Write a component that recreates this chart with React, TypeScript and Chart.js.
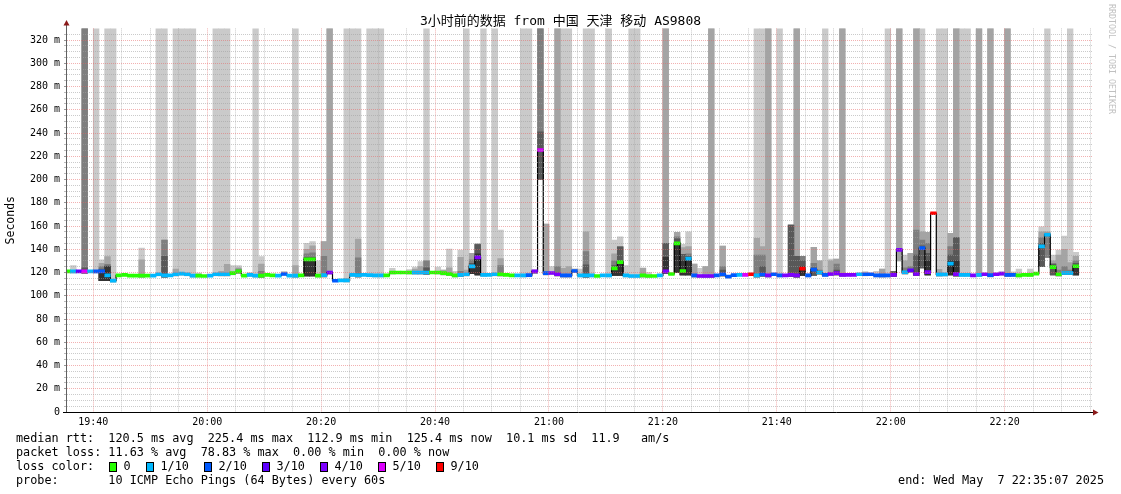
import React, { useEffect, useRef } from 'react';
import { Chart, registerables } from 'chart.js';

Chart.register(...registerables);

// ---------------- data ----------------
// one column per minute; first column starts at 19:35 (minutes counted from 19:00)
const firstColumnMinute = 35;
const viewStartMinute = 35.39; // left edge of the plot (19:35:23)
const viewEndMinute = 215.51; // right edge of the plot
const yMax = 330;

// median rtt per minute (ms)
const median = [
  121, 121, 121, 121, 121, 121, 121, 117.5, 113, 117.5,
  118, 117.3, 117.3, 117.3, 117.3, 117.3, 118.5, 117.5, 117.5, 118.5,
  119, 118.5, 117.3, 117.3, 117, 117.3, 118.5, 118.5, 118.5, 119.5,
  121, 117.3, 118, 117.3, 117.3, 118, 117.5, 117.3, 118.7, 117.3,
  117.3, 117.5, 131.3, 131.3, 117.3, 117.8, 120, 112.9, 113.3, 113.3,
  118, 117.8, 118, 117.8, 117.5, 117.5, 117.5, 120, 120, 120,
  120, 120, 120, 120, 120, 120, 119.5, 118.7, 117.5, 118,
  118.5, 125.3, 133, 118, 118, 118.5, 118.5, 118, 117.5, 117.5,
  117.5, 117.8, 120.9, 225.4, 119.5, 119.6, 118.5, 117.5, 117.5, 121.3,
  117.5, 117.5, 117.5, 117, 117.5, 117.5, 123.5, 129, 117.5, 117,
  117, 117.5, 117, 117, 117.5, 121, 118.7, 145, 121.3, 131.9,
  117.5, 117, 117, 117, 117.5, 118.5, 116.5, 117.8, 118, 118,
  118.5, 117.5, 118.3, 117.5, 118.5, 117.5, 117.5, 118, 117.5, 123.4,
  117.5, 122.5, 120, 118, 118.7, 119.5, 118, 118, 118, 118.5,
  118.5, 118.5, 117.5, 117.5, 117.5, 118, 139.5, 120.2, 121.9, 118.7,
  140.9, 120.4, 171, 118.4, 118.4, 127.7, 118.6, 118, 118, 117.5,
  118, 118.5, 117.8, 118.5, 119, 118, 118, 117.5, 118, 118,
  119, 142.5, 152.5, 124.7, 118.5, 119.6, 119.6, 125.4,
];

// lost pings (of 10) per minute
const lossCount = [
  0, 1, 3, 5, 1, 2, 2, 1, 1, 0,
  0, 0, 0, 0, 0, 1, 1, 1, 1, 1,
  1, 1, 1, 0, 0, 1, 1, 1, 1, 0,
  0, 0, 1, 1, 0, 0, 0, 1, 2, 1,
  1, 0, 0, 0, 0, 1, 4, 2, 1, 1,
  1, 1, 1, 1, 1, 1, 0, 0, 0, 0,
  0, 1, 1, 1, 0, 0, 0, 0, 0, 1,
  1, 1, 4, 1, 1, 1, 0, 0, 0, 1,
  1, 2, 4, 5, 2, 4, 4, 2, 2, 2,
  1, 1, 1, 0, 1, 1, 0, 0, 1, 1,
  1, 0, 0, 0, 1, 4, 0, 0, 0, 1,
  2, 4, 4, 4, 2, 2, 2, 2, 1, 5,
  9, 1, 2, 4, 2, 2, 4, 4, 4, 9,
  2, 2, 1, 2, 4, 4, 4, 4, 4, 1,
  2, 2, 2, 2, 2, 4, 4, 1, 3, 4,
  2, 4, 9, 1, 1, 1, 4, 1, 1, 4,
  1, 4, 2, 4, 4, 2, 2, 0, 0, 0,
  0, 1, 1, 0, 0, 1, 1, 0,
];

// lower edge of the smoke (ms); 0 = just below the median
const smokeLow = [
  0, 0, 0, 0, 0, 0, 113, 113, 0, 0,
  0, 0, 0, 0, 0, 0, 0, 0, 0, 0,
  0, 0, 0, 0, 0, 0, 0, 0, 0, 0,
  0, 0, 0, 0, 0, 0, 0, 0, 0, 0,
  0, 0, 117, 117, 0, 0, 0, 0, 0, 0,
  0, 0, 0, 0, 0, 0, 0, 0, 0, 0,
  0, 0, 0, 0, 0, 0, 0, 0, 0, 0,
  0, 119, 118, 0, 0, 0, 0, 0, 0, 0,
  0, 0, 0, 200, 0, 0, 0, 0, 0, 0,
  0, 0, 0, 0, 0, 0, 117.5, 117.5, 0, 0,
  0, 0, 0, 0, 0, 0, 0, 120, 118, 118,
  0, 0, 0, 0, 0, 0, 0, 0, 0, 0,
  0, 0, 0, 0, 0, 0, 0, 0, 0, 117.5,
  0, 117.5, 0, 0, 0, 0, 0, 0, 0, 0,
  0, 0, 0, 0, 0, 0, 130, 0, 0, 0,
  124, 118, 0, 0, 0, 118, 0, 0, 0, 0,
  0, 0, 0, 0, 0, 0, 0, 0, 0, 0,
  0, 125, 133, 118, 0, 0, 0, 118,
];

// upper edges of the smoke shades, lightest (1) to darkest (5); 0 = none, 330 = beyond the top
const smoke1 = [
  0, 126, 0, 330, 0, 330, 131, 330, 330, 0,
  0, 0, 0, 141, 0, 0, 330, 330, 0, 330,
  330, 330, 330, 119.5, 0, 0, 330, 330, 330, 126,
  126, 0, 120, 330, 133.6, 0, 0, 0, 121, 0,
  330, 0, 145, 146.5, 130, 146.5, 330, 0, 0, 330,
  330, 330, 0, 330, 330, 330, 0, 123.6, 0, 0,
  122.5, 124.7, 129.3, 330, 0, 124.7, 122, 140.2, 121, 139.4,
  330, 136.6, 144.5, 330, 0, 330, 156.6, 0, 0, 0,
  330, 330, 122, 330, 161.7, 125, 330, 330, 330, 123,
  123, 330, 330, 0, 0, 330, 148, 150.8, 126, 330,
  330, 124, 120, 0, 0, 330, 0, 154.6, 144.2, 155,
  127.3, 123.6, 125, 330, 0, 142.8, 0, 0, 0, 0,
  0, 330, 330, 330, 0, 330, 0, 160.9, 330, 134,
  119, 141.6, 130, 330, 131.6, 131.6, 330, 0, 0, 0,
  120.7, 0, 121, 123, 330, 120.7, 330, 135, 136.5, 330,
  330, 154.6, 0, 330, 330, 153.7, 330, 330, 330, 0,
  330, 0, 330, 0, 120.5, 330, 120.5, 123, 0, 123,
  0, 159.4, 330, 135, 139.4, 151.4, 330, 137.4,
];
const smoke2 = [
  0, 0, 0, 330, 0, 0, 128, 133.6, 0, 0,
  0, 0, 0, 131, 0, 0, 0, 148, 0, 123,
  0, 0, 0, 0, 0, 0, 0, 121, 127, 0,
  124, 0, 0, 0, 127.3, 0, 0, 0, 0, 0,
  126, 0, 140, 143, 0, 146.5, 330, 0, 0, 115,
  0, 148.8, 0, 0, 0, 0, 0, 0, 0, 0,
  0, 123, 125, 130, 0, 0, 122, 124, 0, 133,
  122, 136.6, 144.5, 0, 0, 0, 132, 0, 0, 0,
  0, 0, 122, 330, 161.7, 0, 330, 123.6, 125, 123,
  0, 155, 0, 0, 0, 0, 136, 142, 0, 0,
  0, 123.6, 0, 0, 0, 330, 0, 154.6, 141.5, 142.2,
  127.3, 0, 125, 330, 0, 142.8, 0, 0, 0, 0,
  0, 149.4, 142.2, 330, 0, 0, 0, 160.9, 330, 134,
  0, 141.6, 130, 0, 130, 131.6, 330, 0, 0, 0,
  0, 0, 0, 123, 0, 120.7, 330, 130, 136.5, 330,
  155, 154.6, 0, 122.7, 0, 153.7, 330, 0, 0, 0,
  330, 0, 330, 0, 0, 330, 0, 0, 0, 0,
  0, 155, 155, 130, 135, 140, 128.5, 134,
];
const smoke3 = [
  0, 0, 0, 330, 0, 0, 125, 127, 0, 0,
  0, 0, 0, 0, 0, 0, 0, 148, 0, 0,
  0, 0, 0, 0, 0, 0, 0, 0, 0, 0,
  123, 0, 0, 0, 121, 0, 0, 0, 0, 0,
  0, 0, 136, 137, 0, 134, 0, 0, 0, 0,
  0, 132.7, 0, 0, 0, 0, 0, 0, 0, 0,
  0, 0, 0, 130, 0, 0, 0, 0, 0, 121,
  0, 131, 144.5, 0, 0, 0, 126, 0, 0, 0,
  0, 0, 121.5, 330, 0, 0, 125, 0, 0, 0,
  0, 138, 0, 0, 0, 0, 130, 142, 0, 0,
  0, 0, 0, 0, 0, 145, 0, 150.8, 135.7, 136,
  0, 0, 0, 0, 0, 125, 0, 0, 0, 0,
  0, 135, 135, 0, 0, 0, 0, 160.9, 134, 134,
  0, 128, 122, 0, 0, 127.3, 0, 0, 0, 0,
  0, 0, 0, 0, 0, 120.7, 0, 124, 125, 156.6,
  148, 145, 0, 0, 0, 142.2, 150, 0, 0, 0,
  0, 0, 0, 0, 0, 0, 0, 0, 0, 0,
  0, 150, 154, 128, 122, 125, 122, 130,
];
const smoke4 = [
  0, 0, 0, 124, 0, 0, 123, 125.5, 0, 0,
  0, 0, 0, 0, 0, 0, 0, 134, 0, 0,
  0, 0, 0, 0, 0, 0, 0, 0, 0, 0,
  0, 0, 0, 0, 0, 0, 0, 0, 0, 0,
  0, 0, 133, 133, 0, 0, 0, 0, 0, 0,
  0, 119, 0, 0, 0, 0, 0, 0, 0, 0,
  0, 0, 0, 124, 0, 0, 0, 0, 0, 0,
  0, 128, 144, 0, 0, 0, 0, 0, 0, 0,
  0, 0, 0, 241, 0, 0, 0, 0, 0, 0,
  0, 126.5, 0, 0, 0, 0, 126, 142, 0, 0,
  0, 0, 0, 0, 0, 145, 0, 149, 135.7, 134,
  0, 0, 0, 0, 0, 122, 0, 0, 0, 0,
  0, 0, 125, 0, 0, 0, 0, 160.9, 134, 130,
  0, 124, 0, 0, 0, 122, 0, 0, 0, 0,
  0, 0, 0, 0, 0, 120.7, 0, 0, 121, 135,
  143, 136.5, 0, 0, 0, 135, 150, 0, 0, 0,
  0, 0, 0, 0, 0, 0, 0, 0, 0, 0,
  0, 145, 0, 127, 0, 0, 0, 128,
];
const smoke5 = [
  0, 0, 0, 0, 0, 0, 121.5, 125, 0, 0,
  0, 0, 0, 0, 0, 0, 0, 0, 0, 0,
  0, 0, 0, 0, 0, 0, 0, 0, 0, 0,
  0, 0, 0, 0, 0, 0, 0, 0, 0, 0,
  0, 0, 131.5, 131.5, 0, 0, 0, 0, 0, 0,
  0, 0, 0, 0, 0, 0, 0, 0, 0, 0,
  0, 0, 0, 0, 0, 0, 0, 0, 0, 0,
  0, 126, 136, 0, 0, 0, 0, 0, 0, 0,
  0, 0, 0, 0, 0, 0, 0, 0, 0, 0,
  0, 0, 0, 0, 0, 0, 124, 130, 0, 0,
  0, 0, 0, 0, 0, 133, 0, 146, 130, 132.5,
  0, 0, 0, 0, 0, 0, 0, 0, 0, 0,
  0, 0, 0, 0, 0, 0, 0, 0, 0, 125,
  0, 0, 0, 0, 0, 0, 0, 0, 0, 0,
  0, 0, 0, 0, 0, 0, 0, 0, 0, 0,
  0, 130, 0, 0, 0, 130, 130, 0, 0, 0,
  0, 0, 0, 0, 0, 0, 0, 0, 0, 0,
  0, 0, 0, 0, 0, 0, 0, 126,
];

const xTickMinutes = [40, 45, 50, 55, 60, 65, 70, 75, 80, 85, 90, 95, 100, 105, 110, 115, 120, 125, 130, 135, 140, 145, 150, 155, 160, 165, 170, 175, 180, 185, 190, 195, 200, 205, 210, 215];
const yTickValues = [0, 5, 10, 15, 20, 25, 30, 35, 40, 45, 50, 55, 60, 65, 70, 75, 80, 85, 90, 95, 100, 105, 110, 115, 120, 125, 130, 135, 140, 145, 150, 155, 160, 165, 170, 175, 180, 185, 190, 195, 200, 205, 210, 215, 220, 225, 230, 235, 240, 245, 250, 255, 260, 265, 270, 275, 280, 285, 290, 295, 300, 305, 310, 315, 320, 325];

const lossColors: Record<number, string> = {
  0: '#26ff00', 1: '#00b8ff', 2: '#0059ff', 3: '#5e00ff', 4: '#7e00ff', 5: '#dd00ff', 9: '#ff0000',
};
const lossLegendKeys = [0, 1, 2, 3, 4, 5, 9];
const lossLegendLabels = ['0', '1/10', '2/10', '3/10', '4/10', '5/10', '9/10'];

const titleText = '3小时前的数据 from 中国 天津 移动 AS9808';
const medianLine = 'median rtt:  120.5 ms avg  225.4 ms max  112.9 ms min  125.4 ms now  10.1 ms sd  11.9   am/s';
const lossLine = 'packet loss: 11.63 % avg  78.83 % max  0.00 % min  0.00 % now';
const probeLine = 'probe:       10 ICMP Echo Pings (64 Bytes) every 60s';
const endLine = 'end: Wed May  7 22:35:07 2025';

// ---------------- styles ----------------
const smokeShades = ['#cacaca', '#a4a4a4', '#7e7e7e', '#585858', '#323232'];
const minorGrid = 'rgba(160,160,160,0.55)';
const majorGrid = 'rgba(230,100,100,0.5)';
const mono = '"DejaVu Sans Mono", "Noto Sans CJK SC", monospace';
const legendSquareX = [109, 146, 204, 262, 320, 378, 436];

const axesPlugin = {
  id: 'rrdAxes',
  afterDraw(chart: any) {
    const { ctx, chartArea: a } = chart;
    ctx.save();
    ctx.lineWidth = 1;
    ctx.strokeStyle = '#606060';
    ctx.beginPath();
    ctx.moveTo(a.left - 0.5, a.bottom);
    ctx.lineTo(a.left - 0.5, a.top - 4);
    ctx.stroke();
    ctx.strokeStyle = '#000';
    ctx.beginPath();
    ctx.moveTo(a.left - 4, a.bottom + 0.5);
    ctx.lineTo(a.right + 1, a.bottom + 0.5);
    ctx.stroke();
    ctx.fillStyle = '#8b1a1a';
    ctx.beginPath();
    ctx.moveTo(a.left - 3.5, a.top - 3);
    ctx.lineTo(a.left + 2.5, a.top - 3);
    ctx.lineTo(a.left - 0.5, a.top - 8.5);
    ctx.closePath();
    ctx.fill();
    ctx.beginPath();
    ctx.moveTo(a.right, a.bottom - 2.5);
    ctx.lineTo(a.right, a.bottom + 3.5);
    ctx.lineTo(a.right + 5.5, a.bottom + 0.5);
    ctx.closePath();
    ctx.fill();
    ctx.restore();
  },
};

function timeLabel(v: number) {
  const h = 19 + Math.floor(v / 60);
  const m = v % 60;
  return `${h}:${String(m).padStart(2, '0')}`;
}

export default function App() {
  const canvasRef = useRef<HTMLCanvasElement>(null);

  useEffect(() => {
    document.body.style.margin = '0';
    const canvas = canvasRef.current;
    if (!canvas) return;

    const columns = median.map((_, i) => firstColumnMinute + i);
    const lowOf = (i: number) => (smokeLow[i] > 0 ? smokeLow[i] : median[i] - 1.5);
    const layers = [smoke1, smoke2, smoke3, smoke4, smoke5];

    const smokeDatasets = layers.map((layer, li) => ({
      type: 'bar' as const,
      label: `smoke${li + 1}`,
      data: layer
        .map((top, i) => (top > 0 ? { x: columns[i] + 0.5, y: [lowOf(i), Math.min(top, yMax)] } : null))
        .filter((d) => d !== null),
      backgroundColor: smokeShades[li],
      borderWidth: 0,
      grouped: false,
      categoryPercentage: 1,
      barPercentage: 1,
      order: 10 - li,
    }));

    const medianBars = {
      type: 'bar' as const,
      label: 'median',
      data: median.map((m, i) => ({ x: columns[i] + 0.5, y: [m - 1.3, m + 1.3] })),
      backgroundColor: lossCount.map((l) => lossColors[l]),
      borderWidth: 0,
      grouped: false,
      categoryPercentage: 1,
      barPercentage: 1,
      order: 1,
    };

    const last = median.length - 1;
    const medianLineDs = {
      type: 'line' as const,
      label: 'median line',
      data: [
        ...median.map((m, i) => ({ x: columns[i], y: m })),
        { x: columns[last] + 1, y: median[last] },
      ],
      stepped: true,
      borderColor: '#000',
      borderWidth: 1.2,
      pointRadius: 0,
      fill: false,
      order: 2,
    };

    const tickFont = { family: mono, size: 10 };

    const chart = new Chart(canvas, {
      type: 'bar',
      data: { datasets: [medianBars, medianLineDs, ...smokeDatasets] as any },
      options: {
        responsive: false,
        animation: false,
        devicePixelRatio: 1,
        events: [],
        layout: { padding: { left: 0, right: 28, top: 28.4, bottom: 62 } },
        plugins: { legend: { display: false }, tooltip: { enabled: false }, title: { display: false } },
        scales: {
          x: {
            type: 'linear',
            min: viewStartMinute,
            max: viewEndMinute,
            offset: false,
            afterBuildTicks: (axis: any) => {
              axis.ticks = xTickMinutes.map((v) => ({ value: v }));
            },
            afterFit: (axis: any) => {
              axis.height = 20;
            },
            ticks: {
              autoSkip: false,
              maxRotation: 0,
              minRotation: 0,
              padding: 4,
              color: '#000',
              font: tickFont,
              callback: (v: any) => (Number(v) % 20 === 0 ? timeLabel(Number(v)) : ''),
            },
            grid: {
              offset: false,
              z: 1,
              drawTicks: false,
              lineWidth: 1,
              color: (c: any) => (c.tick && c.tick.value % 20 === 0 ? majorGrid : minorGrid),
            },
            border: { display: false, dash: [1, 1] },
          },
          y: {
            type: 'linear',
            min: 0,
            max: yMax,
            afterBuildTicks: (axis: any) => {
              axis.ticks = yTickValues.map((v) => ({ value: v }));
            },
            afterFit: (axis: any) => {
              axis.width = 67;
            },
            ticks: {
              autoSkip: false,
              padding: 4,
              color: '#000',
              font: tickFont,
              callback: (v: any) => {
                const n = Number(v);
                if (n === 0) return '0';
                return n % 20 === 0 ? `${n} m` : '';
              },
            },
            grid: {
              z: 1,
              drawTicks: true,
              tickLength: 3,
              tickColor: (c: any) => (c.tick && c.tick.value % 20 === 0 ? '#999' : '#bbb'),
              lineWidth: 1,
              color: (c: any) => {
                const v = c.tick ? c.tick.value : 0;
                if (v === 0) return 'rgba(0,0,0,0)';
                return v % 20 === 0 ? majorGrid : minorGrid;
              },
            },
            border: { display: false, dash: [1, 1] },
            title: {
              display: true,
              text: 'Seconds',
              color: '#000',
              font: { family: mono, size: 11.5 },
              padding: { top: 4, bottom: 0 },
            },
          },
        },
      } as any,
      plugins: [axesPlugin],
    });

    return () => chart.destroy();
  }, []);

  const textBase: React.CSSProperties = {
    position: 'absolute',
    fontFamily: mono,
    fontSize: 11.8,
    lineHeight: '16px',
    whiteSpace: 'pre',
    color: '#000',
  };

  return (
    <div style={{ position: 'fixed', left: 0, top: 0, width: 1121, height: 494, background: '#fff', overflow: 'hidden' }}>
      <canvas ref={canvasRef} width={1121} height={494} style={{ position: 'absolute', left: 0, top: 0, width: 1121, height: 494 }} />
      <div style={{ position: 'absolute', left: 0, width: 1121, top: 13, textAlign: 'center', fontFamily: mono, fontSize: 13, lineHeight: '16px', whiteSpace: 'pre', color: '#000' }}>
        {titleText}
      </div>
      <div style={{ position: 'absolute', left: 1107, top: 4, writingMode: 'vertical-rl', fontFamily: mono, fontSize: 8.3, lineHeight: '10px', color: '#c0c0c0', whiteSpace: 'pre' }}>
        RRDTOOL / TOBI OETIKER
      </div>
      <div style={{ ...textBase, left: 16, top: 430 }}>{medianLine}</div>
      <div style={{ ...textBase, left: 16, top: 444 }}>{lossLine}</div>
      <div style={{ ...textBase, left: 16, top: 458 }}>{'loss color:'}</div>
      {lossLegendKeys.map((k, i) => (
        <React.Fragment key={k}>
          <div style={{ position: 'absolute', left: legendSquareX[i], top: 461.5, width: 6, height: 8, background: lossColors[k], border: '1px solid #000' }} />
          <div style={{ ...textBase, left: legendSquareX[i] + 14.5, top: 458 }}>{lossLegendLabels[i]}</div>
        </React.Fragment>
      ))}
      <div style={{ ...textBase, left: 16, top: 472 }}>{probeLine}</div>
      <div style={{ ...textBase, right: 17, top: 472, textAlign: 'right' }}>{endLine}</div>
    </div>
  );
}
